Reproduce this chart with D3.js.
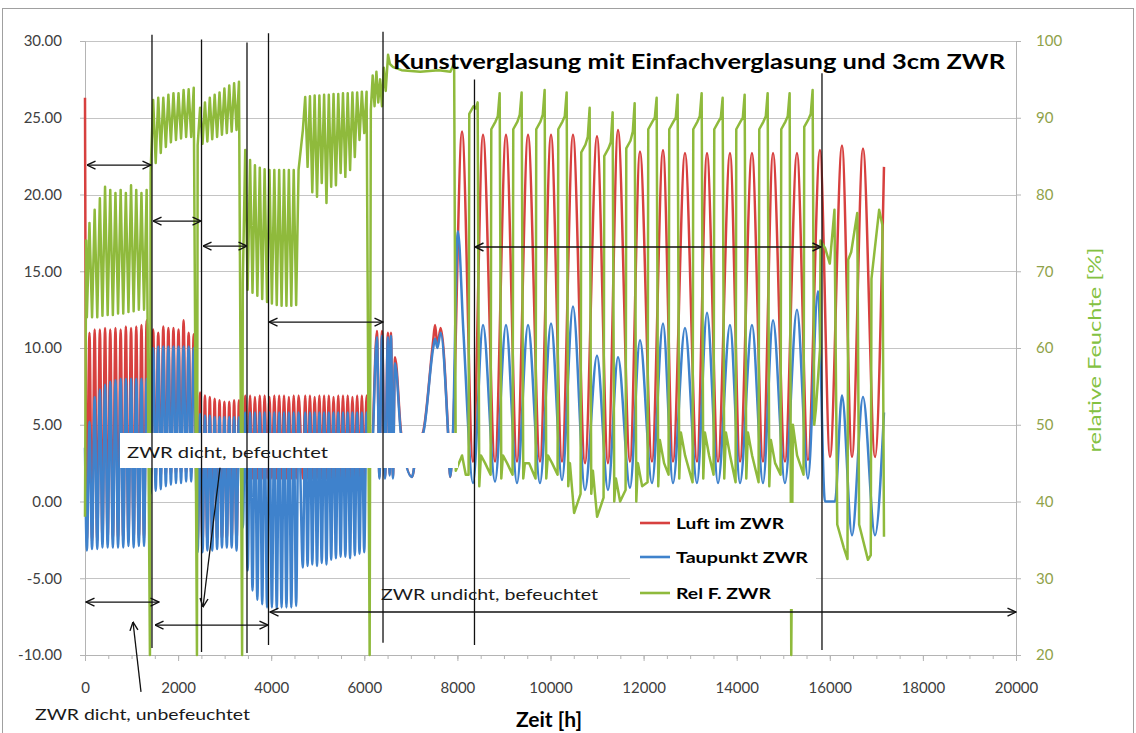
<!DOCTYPE html>
<html><head><meta charset="utf-8">
<script src="https://cdn.jsdelivr.net/npm/d3@7"></script>
<style>
body{margin:0;background:#fff;}
svg{display:block;font-family:Lato,"Open Sans",sans-serif;}
</style></head><body>
<svg id="chart" width="1136" height="733"></svg>
<script>
// ---------- axis ticks ----------
const tempTicks = [-10, -5, 0, 5, 10, 15, 20, 25, 30];
const rhTicks = [20, 30, 40, 50, 60, 70, 80, 90, 100];
const hourTicks = [0, 2000, 4000, 6000, 8000, 10000, 12000, 14000, 16000, 18000, 20000];

// ---------- measurement phases: start / end hour of each dense block ----------
const phaseHours = [[40, 1380], [1410, 2390], [2420, 3360], [3390, 4640], [4680, 6100]];

// Luft im ZWR [°C]: maxima / minima per cycle in each phase
const luftHigh = [
  [11.0, 11.2, 11.2, 11.3, 11.2, 11.3, 11.2, 11.4, 11.3, 11.4, 11.5, 11.8],
  [11.2, 11.0, 11.4, 11.3, 11.3, 11.2, 11.8, 11.0, 10.9],
  [7.1, 6.9, 6.8, 6.7, 6.6, 6.5, 6.5, 6.6, 6.6],
  [6.9, 6.9, 6.8, 6.9, 6.9, 6.8, 6.9, 6.9, 6.9, 6.8, 6.9, 6.9],
  [6.9, 6.9, 6.8, 6.9, 6.9, 6.9, 6.8, 6.9, 6.9, 6.9, 6.8, 6.9, 6.9, 6.9]
];
const luftLow = [
  [-2.6, -2.6, -2.6, -2.5, -2.5, -2.5, -2.5, -2.5, -2.4, -2.5, -2.4, -2.4],
  [1.5, 1.5, 1.6, 1.7, 1.7, 1.8, 1.8, 1.8, 1.8],
  [-2.7, -2.7, -2.6, -2.6, -2.5, -2.4, -2.4, -2.4, -2.6],
  [1.5, 1.5, 1.5, 1.5, 1.5, 1.5, 1.5, 1.5, 1.5, 1.5, 1.5, 1.5],
  [1.5, 1.5, 1.5, 1.5, 1.5, 1.5, 1.5, 1.5, 1.5, 1.5, 1.5, 1.5, 1.5, 1.5]
];
// Taupunkt ZWR [°C]
const tauHigh = [
  [5.2, 6.8, 7.3, 7.6, 7.8, 7.9, 8.0, 8.0, 8.0, 8.0, 8.0, 8.0],
  [10.0, 10.1, 10.1, 10.1, 10.1, 10.1, 10.1, 10.1, 10.0],
  [5.7, 5.6, 5.6, 5.5, 5.5, 5.5, 5.5, 5.5, 5.5],
  [5.8, 5.8, 5.8, 5.8, 5.8, 5.8, 5.8, 5.8, 5.8, 5.8, 5.8, 5.8],
  [5.8, 5.8, 5.8, 5.8, 5.8, 5.8, 5.8, 5.8, 5.8, 5.8, 5.8, 5.8, 5.8, 5.8]
];
const tauLow = [
  [-3.2, -3.1, -3.1, -3.0, -3.0, -3.0, -3.0, -3.0, -2.9, -3.0, -2.9, -2.9],
  [0.5, 0.7, 0.8, 1.0, 1.1, 1.2, 1.2, 1.3, 1.3],
  [-3.3, -3.3, -3.2, -3.2, -3.1, -3.0, -3.0, -3.0, -3.2],
  [-1.7, -4.5, -5.8, -6.4, -6.7, -6.9, -6.9, -7.0, -6.9, -6.9, -6.9, -6.8],
  [-4.3, -4.2, -4.1, -4.2, -4.0, -4.1, -3.8, -3.7, -3.6, -3.6, -3.7, -3.5, -3.4, -3.3]
];
// Rel F. ZWR [%]
const rhHigh = [
  [76.3, 78.0, 79.5, 81.0, 80.6, 80.2, 80.6, 80.2, 81.2, 80.6, 80.2, 80.6],
  [92.3, 92.6, 92.6, 93.0, 93.2, 93.2, 93.6, 93.7, 93.9],
  [91.3, 92.0, 92.6, 93.0, 93.3, 93.8, 94.2, 94.5, 94.7],
  [85.8, 84.5, 83.8, 83.5, 83.3, 83.2, 83.2, 83.2, 83.2, 83.2, 83.2, 83.2],
  [92.7, 92.8, 92.9, 92.9, 93.0, 93.0, 93.1, 93.1, 93.2, 93.2, 93.3, 93.3, 93.4, 93.4]
];
const rhLow = [
  [64.0, 64.0, 64.0, 64.2, 64.3, 64.3, 64.5, 64.5, 64.7, 64.8, 65.0, 65.0],
  [82.8, 84.1, 85.4, 86.2, 86.8, 87.1, 87.3, 87.5, 87.5],
  [86.4, 86.6, 86.9, 87.2, 87.5, 87.8, 88.0, 88.2, 88.4],
  [68.5, 67.6, 67.2, 66.8, 66.4, 66.0, 65.8, 65.6, 65.5, 65.5, 65.5, 65.6],
  [88.4, 83.6, 80.3, 79.7, 81.5, 78.9, 81.0, 81.2, 82.8, 82.3, 83.2, 84.9, 87.1, 88.0]
];
// short drops of the humidity sensor between phases [h]
const rhDropHours = [1395, 2405, 3375];

// ---------- irregular stretch 6100 h – 8000 h ----------
const luftMid = [[6150, 3.0], [6272, 11.1], [6325, 1.6], [6380, 11.1], [6445, 1.6], [6508, 11.0], [6545, 1.8],
  [6573, 11.0], [6615, 1.6], [6659, 9.4], [6790, 4.5], [7024, 1.6], [7150, 4.0], [7260, 4.5], [7480, 10.5],
  [7520, 11.5], [7570, 10.2], [7640, 11.3], [7800, 4.5], [7845, 1.6], [7900, 4.0]];
const tauMid = [[6150, 2.5], [6272, 10.7], [6325, 1.5], [6380, 10.8], [6445, 1.5], [6508, 10.7], [6545, 1.7],
  [6573, 10.8], [6615, 1.5], [6659, 9.0], [6790, 4.3], [7024, 1.6], [7150, 4.0], [7260, 4.4], [7480, 10.0],
  [7520, 10.6], [7570, 10.0], [7640, 11.0], [7800, 4.4], [7845, 1.6], [7900, 4.0]];
const rhMid = [[6115, 20], [6140, 91], [6180, 95.5], [6220, 91.5], [6260, 96], [6300, 92], [6340, 95],
  [6380, 91.5], [6420, 96.5], [6460, 93.5], [6510, 98.2], [6550, 97], [6620, 96.6], [6800, 96.2],
  [7200, 96.0], [7600, 96.2], [7850, 96.0], [7930, 97.1], [7965, 44], [8100, 46], [8180, 43.5]];

// ---------- long cycles from 8000 h: extremes [h, °C] ----------
const luftCycles = [[8099, 24.1], [8335, 2.6], [8550, 23.9], [8808, 2.6], [9044, 23.9], [9280, 2.6],
  [9517, 23.9], [9774, 2.6], [10011, 23.9], [10247, 2.6], [10483, 23.9], [10741, 2.5], [10999, 23.8],
  [11235, 2.5], [11450, 24.2], [11708, 2.6], [11922, 22.8], [12180, 2.6], [12417, 22.9], [12631, 2.6],
  [12889, 22.7], [13147, 2.6], [13362, 22.7], [13598, 2.6], [13856, 22.7], [14071, 2.6], [14328, 22.7],
  [14565, 2.6], [14780, 22.7], [15037, 2.6], [15295, 22.7], [15531, 2.7], [15789, 22.9], [16004, 2.9],
  [16262, 23.2], [16477, 2.9], [16713, 23.0], [16971, 2.9], [17164, 21.8]];
const tauCycles = [[8010, 17.6], [8130, 11.0], [8335, 1.2], [8550, 11.5], [8808, 1.3], [9044, 11.5],
  [9280, 1.2], [9517, 11.5], [9774, 1.2], [10011, 11.6], [10247, 1.4], [10483, 12.7], [10741, 0.75],
  [10999, 9.5], [11235, 0.75], [11450, 9.4], [11708, 0.9], [11922, 10.5], [12180, 1.2], [12417, 11.6],
  [12631, 1.2], [12889, 11.3], [13147, 1.2], [13362, 12.3], [13598, 1.2], [13856, 11.5], [14071, 1.2],
  [14328, 11.5], [14565, 1.2], [14780, 11.8], [15037, 1.2], [15295, 12.5], [15531, 1.5], [15746, 13.7],
  [15896, 0.0], [16111, 0.0], [16262, 6.9], [16477, -2.2], [16713, 6.8], [16971, -2.2], [17164, 5.8]];

// relative humidity per long cycle, referenced to the temperature minimum of each cycle
const rhCycleHours = [8335, 8808, 9280, 9774, 10247, 10741, 11235, 11708, 12180, 12631, 13147, 13598,
  14071, 14565, 15037, 15531];
const rhRise = [43.5, 43.5, 43.5, 43.0, 43.5, 41.0, 40.5, 41.5, 42.5, 43.5, 42.5, 43.5, 42.5, 42.5, 43.5, 43.5];
const rhKink = [90.5, 88.5, 88.5, 88.5, 88.5, 85.5, 85.0, 86.0, 88.5, 88.5, 88.5, 88.5, 88.5, 88.5, 88.5, 88.8];
const rhHump = [91.2, 90.2, 90.4, 90.4, 90.2, 87.5, 86.8, 88.2, 90.0, 90.0, 90.2, 90.0, 90.0, 90.2, 90.2, 90.5];
const rhPeak = [92.0, 93.2, 93.3, 93.6, 93.3, 91.3, 90.7, 91.9, 92.6, 93.0, 93.2, 92.6, 93.0, 93.2, 93.2, 93.6];
const rhFall = [42, 43, 43, 43, 42, 41, 40, 40, 42, 43, 43, 43, 43, 42, 20, 50];
const rhAfter = [46, 46, 45, 46, 45, 44, 43, 45, 48, 49, 49, 49, 49, 48, 50, 52];
const rhLate = [45, 45, 45, 45, 38.5, 38, 40, 42, 45, 46, 46, 46, 46, 45, 46, 60];
const rhTail = [[15800, 74], [15900, 73], [16000, 71], [16100, 78], [16160, 37], [16300, 34], [16380, 32.5],
  [16395, 71.5], [16460, 72.5], [16590, 77.6], [16630, 37], [16820, 32.4], [16880, 33], [16895, 69],
  [17060, 78], [17130, 76], [17164, 35.4]];

// ---------- annotations (hours / °C) ----------
const markerLines = [[1439, 30.4, -9.54], [2503, 30.1, -9.8], [3480, 29.9, -9.87], [3942, 30.5, -9.35],
  [6402, 30.6, -9.2], [8367, 27.5, -9.35], [15832, 27.9, -9.67]];
const spanArrows = [[43, 1418, 21.92], [1461, 2492, 18.27], [2535, 3480, 16.64], [3953, 6402, 11.69],
  [8378, 15811, 16.58], [21, 1590, -6.55], [1504, 3931, -8.05], [3974, 20000, -7.2]];
const pointerArrows = [[2900, 2.2, 2535, -6.87], [1203, -12.4, 1031, -7.85]];

const legendItems = ["Luft im ZWR", "Taupunkt ZWR", "Rel F. ZWR"];
const colors = ["#d7403f", "#3f82cc", "#8fba3c"];

// ---------- assemble series ----------
function phaseZigzag(i, highs, lows) {
  const [h0, h1] = phaseHours[i], n = highs[i].length, p = (h1 - h0) / n, pts = [];
  for (let k = 0; k < n; k++) {
    pts.push([h0 + k * p, lows[i][k]]);
    pts.push([h0 + (k + 0.5) * p, highs[i][k]]);
  }
  return pts;
}
let luft = [[0, 26.3]], tau = [[0, 3.5]], rh = [[0, 38], [25, 74]];
phaseHours.forEach((_, i) => {
  luft = luft.concat(phaseZigzag(i, luftHigh, luftLow));
  tau = tau.concat(phaseZigzag(i, tauHigh, tauLow));
  rh = rh.concat(phaseZigzag(i, rhHigh, rhLow));
  if (i < rhDropHours.length) rh.push([rhDropHours[i], 20]);
});
luft = luft.concat(luftMid, luftCycles);
tau = tau.concat(tauMid, tauCycles);
rh = rh.concat(rhMid);
rhCycleHours.forEach((t, i) => {
  rh.push([t - 95, rhRise[i]], [t - 80, rhKink[i]], [t + 10, rhKink[i] + 1], [t + 60, rhHump[i]],
    [t + 100, rhPeak[i]], [t + 135, rhFall[i]], [t + 170, rhAfter[i]], [t + 260, rhLate[i]]);
});
rh = rh.concat(rhTail);

// ---------- drawing ----------
const svg = d3.select("#chart");
const W = 1136, H = 733;
const x = d3.scaleLinear().domain([0, 20000]).range([85, 1016]);
const yT = d3.scaleLinear().domain([-10, 30]).range([655, 41]);
const yH = d3.scaleLinear().domain([20, 100]).range([655, 41]);
const fmt = d3.formatLocale({decimal: ".", thousands: "", grouping: [3], currency: ["", ""], minus: "-"});

svg.append("rect").attr("x", 0).attr("y", 0).attr("width", W).attr("height", H).attr("fill", "#fff");
svg.append("rect").attr("x", 2.5).attr("y", 8.5).attr("width", W - 5).attr("height", H).attr("fill", "none")
  .attr("stroke", "#a0a0a0");

// horizontal gridlines
svg.append("g").selectAll("line").data(tempTicks).join("line")
  .attr("x1", x(0)).attr("x2", x(20000)).attr("y1", d => Math.round(yT(d)) + 0.5).attr("y2", d => Math.round(yT(d)) + 0.5)
  .attr("stroke", "#c4c4c4");

// left axis
const gL = svg.append("g").attr("transform", `translate(${x(0)},0)`)
  .call(d3.axisLeft(yT).tickValues(tempTicks).tickFormat(fmt.format(".2f")).tickSize(5).tickPadding(18));
// right axis
const gR = svg.append("g").attr("transform", `translate(${x(20000)},0)`)
  .call(d3.axisRight(yH).tickValues(rhTicks).tickSize(5).tickPadding(15));
// bottom axis with minor ticks
const gB = svg.append("g").attr("transform", `translate(0,${yT(-10)})`)
  .call(d3.axisBottom(x).tickValues(d3.range(0, 20001, 500)).tickSize(4).tickFormat(""));
const gB2 = svg.append("g").attr("transform", `translate(0,${yT(-10)})`)
  .call(d3.axisBottom(x).tickValues(hourTicks).tickSize(6).tickPadding(21).tickFormat(d3.format("d")));
[gL, gR, gB, gB2].forEach(g => {
  g.select(".domain").attr("stroke", "#b4b4b4");
  g.selectAll(".tick line").attr("stroke", "#b4b4b4");
  g.selectAll("text").attr("font-family", "Lato, sans-serif").attr("font-size", 15).attr("fill", "#404040");
});
gR.selectAll("text").attr("fill", "#8fa24a");

// series
const lineT = d3.line().x(d => x(d[0])).y(d => yT(d[1])).curve(d3.curveMonotoneX);
const lineH = d3.line().x(d => x(d[0])).y(d => yH(d[1]));
svg.append("path").datum(luft).attr("d", lineT).attr("fill", "none").attr("stroke", colors[0]).attr("stroke-width", 2.5).attr("stroke-linejoin", "round");
svg.append("path").datum(tau).attr("d", lineT).attr("fill", "none").attr("stroke", colors[1]).attr("stroke-width", 2.5).attr("stroke-linejoin", "round");
svg.append("path").datum(rh).attr("d", lineH).attr("fill", "none").attr("stroke", colors[2]).attr("stroke-width", 2.5).attr("stroke-linejoin", "round");

// white label boxes
svg.append("rect").attr("x", 120).attr("y", 433).attr("width", 338).attr("height", 35).attr("fill", "#fff");
svg.append("rect").attr("x", 630).attr("y", 503).attr("width", 186).attr("height", 106).attr("fill", "#fff");

// markers
const defs = svg.append("defs");
defs.append("marker").attr("id", "head").attr("viewBox", "0 0 10 10").attr("refX", 9.5).attr("refY", 5)
  .attr("markerWidth", 10).attr("markerHeight", 10).attr("markerUnits", "userSpaceOnUse").attr("orient", "auto-start-reverse")
  .append("path").attr("d", "M1,1 L9.5,5 L1,9").attr("fill", "none").attr("stroke", "#111").attr("stroke-width", 1.4);

svg.append("g").selectAll("line").data(markerLines).join("line")
  .attr("x1", d => x(d[0])).attr("x2", d => x(d[0])).attr("y1", d => yT(d[1])).attr("y2", d => yT(d[2]))
  .attr("stroke", "#111").attr("stroke-width", 1.3);
svg.append("g").selectAll("line").data(spanArrows).join("line")
  .attr("x1", d => x(d[0])).attr("x2", d => x(d[1])).attr("y1", d => yT(d[2])).attr("y2", d => yT(d[2]))
  .attr("stroke", "#111").attr("stroke-width", 1.3)
  .attr("marker-start", "url(#head)").attr("marker-end", "url(#head)");
svg.append("g").selectAll("line").data(pointerArrows).join("line")
  .attr("x1", d => x(d[0])).attr("y1", d => yT(d[1])).attr("x2", d => x(d[2])).attr("y2", d => yT(d[3]))
  .attr("stroke", "#111").attr("stroke-width", 1.3).attr("marker-end", "url(#head)");

// texts
function label(t, xp, yp, size, w, opts = {}) {
  const el = svg.append("text").attr("x", xp).attr("y", yp).attr("font-size", size).text(t)
    .attr("fill", opts.fill || "#1a1a1a").attr("font-weight", opts.bold ? 700 : 400);
  if (w) el.attr("textLength", w).attr("lengthAdjust", "spacingAndGlyphs");
  if (opts.anchor) el.attr("text-anchor", opts.anchor);
  return el;
}
label("Kunstverglasung mit Einfachverglasung und 3cm ZWR", 393, 69, 20, 612, {bold: true, fill: "#000"});
label("ZWR dicht, befeuchtet", 127, 458, 16, 201);
label("ZWR undicht, befeuchtet", 381, 600, 16, 217);
label("ZWR dicht, unbefeuchtet", 35, 720, 16, 215);
label("Zeit [h]", 549, 727, 21, 0, {bold: true, anchor: "middle", fill: "#000"});
svg.append("text").attr("transform", "translate(1101,350) rotate(-90)").attr("text-anchor", "middle")
  .attr("font-size", 17).attr("fill", "#84c142").attr("textLength", 205).attr("lengthAdjust", "spacingAndGlyphs")
  .text("relative Feuchte [%]");

// legend
const legY = [523, 557, 593];
const legW = [108, 132, 95];
legendItems.forEach((t, i) => {
  svg.append("line").attr("x1", 640).attr("x2", 670).attr("y1", legY[i]).attr("y2", legY[i])
    .attr("stroke", colors[i]).attr("stroke-width", 2.6);
  label(t, 676, legY[i] + 5.5, 15, legW[i], {bold: true, fill: "#000"});
});
</script></body></html>
